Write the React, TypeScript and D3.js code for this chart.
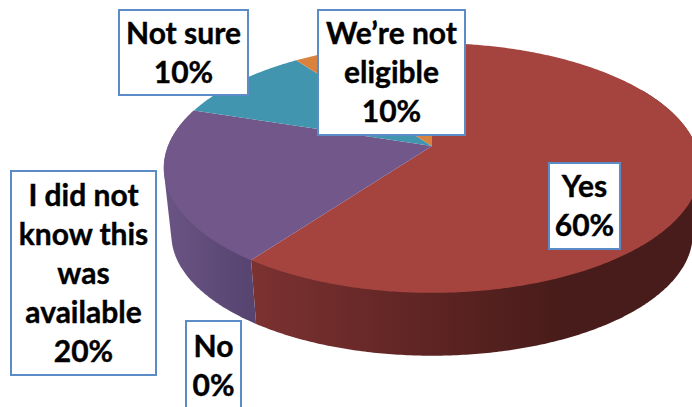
import React from "react";
import * as d3 from "d3";

const categories = ["Yes", "No", "I did not know this was available", "Not sure", "We’re not eligible"];
const values = [60, 0, 20, 10, 10];
const colors = ["#A5433F", "#4F81BD", "#72588A", "#4295AE", "#D9823E"];
const labelLines = [["Yes", "60%"], ["No", "0%"], ["I did not", "know this", "was", "available", "20%"], ["Not sure", "10%"], ["We’re not", "eligible", "10%"]];
const labelBoxes = [
  [549, 163, 71, 86],
  [186, 321, 55, 90],
  [11, 171, 145, 204],
  [119, 10, 129, 85],
  [318, 10, 147, 125],
];

const CX = 432, CY = 146, A = 264, B = 121, K = 0.176;
const S = 0.972, DY = 67;

const project = (a: number, bottom = false): [number, number] => {
  const u = Math.sin(a), v = Math.cos(a), d = 1 + K * v;
  const x = (A * u) / d, y = (-B * v) / d;
  return bottom ? [CX + S * x, CY + DY + S * y] : [CX + x, CY + y];
};
const arcAngles = (a0: number, a1: number) => {
  const n = Math.max(2, Math.ceil(Math.abs(a1 - a0) / 0.01));
  return d3.range(n + 1).map((i) => a0 + ((a1 - a0) * i) / n);
};
const wall = (a0: number, a1: number) => {
  const angles = arcAngles(a0, a1);
  return d3.polygonHull([...angles.map((a) => project(a)), ...angles.map((a) => project(a, true))]) as [number, number][];
};

export default function App() {
  const arcs = d3.pie<number>().sort(null)(values);
  const line = d3.line();
  const redEnd = arcs[0].endAngle;
  const purpleEnd = arcs[2].endAngle;
  return (
    <svg width={692} height={407} style={{ position: "absolute", left: 0, top: 0, background: "#fff" }}>
      <defs>
        <linearGradient id="redSide" gradientUnits="userSpaceOnUse" x1={250} x2={692} y1={0} y2={0}>
          <stop offset="0" stopColor="#7C3231" />
          <stop offset="0.35" stopColor="#622625" />
          <stop offset="0.7" stopColor="#481C1A" />
          <stop offset="1" stopColor="#481C1A" />
        </linearGradient>
        <linearGradient id="purpleSide" gradientUnits="userSpaceOnUse" x1={165} x2={256} y1={0} y2={0}>
          <stop offset="0" stopColor="#6A5484" />
          <stop offset="1" stopColor="#56436F" />
        </linearGradient>
      </defs>
      <path d={line(wall(Math.PI / 3, redEnd))! + "Z"} fill="url(#redSide)" />
      <path d={line(wall(redEnd, purpleEnd))! + "Z"} fill="url(#purpleSide)" />
      {arcs.map((arc, i) =>
        arc.endAngle > arc.startAngle ? (
          <path
            key={categories[i]}
            d={line([[CX, CY], ...arcAngles(arc.startAngle, arc.endAngle).map((a) => project(a))])! + "Z"}
            fill={colors[i]}
          />
        ) : null
      )}
      {labelBoxes.map(([x, y, w, h], i) => {
        const lines = labelLines[i];
        const lh = 39;
        const top = y + h / 2 - (lines.length * lh) / 2;
        return (
          <g key={i}>
            <rect x={x} y={y} width={w} height={h} fill="#fff" stroke="#5B8CC8" strokeWidth={2} />
            <text textAnchor="middle" fontFamily="Lato" fontWeight={700} fontSize={30} fill="#000" stroke="#000" strokeWidth={0.4}>
              {lines.map((t, j) => (
                <tspan key={j} x={x + w / 2} y={top + lh * j + 30}>{t}</tspan>
              ))}
            </text>
          </g>
        );
      })}
    </svg>
  );
}
